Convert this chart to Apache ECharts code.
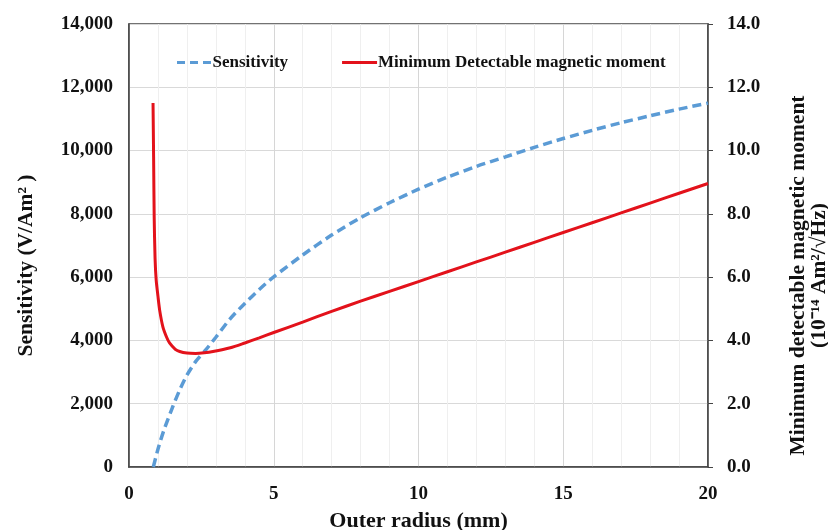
<!DOCTYPE html>
<html>
<head>
<meta charset="utf-8">
<script src="https://cdn.jsdelivr.net/npm/echarts@6/dist/echarts.min.js"></script>
<style>
  html, body { margin: 0; padding: 0; background: #fff; }
  #chart { width: 828px; height: 530px; }
</style>
</head>
<body>
<div id="chart"></div>
<script>
// outer radius (mm) and sensitivity (V/Am^2)
const sensX = [0.84, 1.0, 1.2, 1.5, 1.75, 2.0, 2.3, 2.65, 3.0, 3.5, 4.0, 4.5, 5.0, 6.0, 7.0, 8.0, 9.0, 10.0,
  11.0, 12.0, 13.0, 14.0, 15.0, 16.0, 17.0, 18.0, 19.0, 20.0]
const sensY = [0, 560, 1150, 1880, 2430, 2900, 3330, 3700, 4100, 4690, 5170, 5610, 6010, 6700, 7330, 7880, 8350, 8780,
  9160, 9500, 9800, 10100, 10380, 10640, 10880, 11100, 11310, 11500]

// outer radius (mm) and minimum detectable magnetic moment (1e-14 Am^2/sqrtHz)
const mdmX = [0.83, 0.85, 0.87, 0.9, 0.94, 1.0, 1.06, 1.17, 1.3, 1.4, 1.6, 1.75, 2.0, 2.3, 2.6, 2.9, 3.5, 4.0, 4.5, 5.0,
  6.0, 7.0, 8.0, 9.0, 10.0, 11.0, 12.0, 13.0, 14.0, 15.0, 16.0, 17.0, 18.0, 19.0, 20.0]
const mdmY = [11.5, 9.8, 7.9, 6.6, 5.9, 5.4, 4.95, 4.43, 4.1, 3.92, 3.72, 3.65, 3.6, 3.59, 3.61, 3.65, 3.77, 3.92, 4.08, 4.25,
  4.58, 4.92, 5.24, 5.55, 5.86, 6.17, 6.48, 6.79, 7.1, 7.41, 7.72, 8.03, 8.34, 8.65, 8.96]

const leftTicks = ['0', '2,000', '4,000', '6,000', '8,000', '10,000', '12,000', '14,000']
const rightTicks = ['0.0', '2.0', '4.0', '6.0', '8.0', '10.0', '12.0', '14.0']

const font = 'Liberation Serif'
const labelStyle = { fontFamily: font, fontWeight: 'bold', fontSize: 19, color: '#111' }
let myChart = echarts.init(document.getElementById('chart'))
let option = {
  animation: false,
  textStyle: { fontFamily: font },
  legend: {
    top: 49,
    left: 172,
    itemWidth: 35,
    itemHeight: 3,
    itemGap: 54,
    textStyle: { fontFamily: font, fontWeight: 'bold', fontSize: 17, color: '#111', padding: [0, 0, 0, -4] },
    data: [
      { name: 'Sensitivity', icon: 'path://M0,0h8v3h-8zM13,0h8v3h-8zM26,0h8v3h-8z' },
      { name: 'Minimum Detectable magnetic moment', icon: 'rect' }
    ]
  },
  grid: {
    left: 129,
    right: 120,
    top: 24,
    bottom: 63,
    outerBoundsMode: 'none',
    containLabel: false,
    show: true,
    borderColor: '#444',
    borderWidth: 1.5
  },
  xAxis: {
    type: 'value',
    min: 0,
    max: 20,
    interval: 5,
    name: 'Outer radius (mm)',
    nameLocation: 'middle',
    nameGap: 43,
    nameTextStyle: { fontFamily: font, fontWeight: 'bold', fontSize: 22, color: '#111' },
    axisLine: { lineStyle: { color: '#444', width: 1.5 } },
    axisTick: { show: false },
    axisLabel: Object.assign({ margin: 18 }, labelStyle),
    splitLine: { lineStyle: { color: '#d6d6d6' } },
    minorTick: { show: false, splitNumber: 5 },
    minorSplitLine: { show: true, lineStyle: { color: '#efefef' } }
  },
  yAxis: [
    {
      type: 'value',
      min: 0,
      max: 14000,
      interval: 2000,
      name: 'Sensitivity (V/Am² )',
      nameLocation: 'middle',
      nameRotate: 90,
      nameGap: 92,
      nameTextStyle: { fontFamily: font, fontWeight: 'bold', fontSize: 21.5, color: '#111', padding: [0, 40, 0, 0] },
      axisLine: { show: true, lineStyle: { color: '#444', width: 1.5 } },
      axisTick: { show: false },
      axisLabel: Object.assign({ margin: 16, formatter: (v) => leftTicks[Math.round(v / 2000)] }, labelStyle),
      splitLine: { lineStyle: { color: '#d9d9d9', width: 1.2 } }
    },
    {
      type: 'value',
      min: 0,
      max: 14,
      interval: 2,
      position: 'right',
      name: 'Minimum detectable magnetic moment\n(10⁻¹⁴ Am²/√Hz)',
      nameLocation: 'middle',
      nameRotate: 90,
      nameGap: 80,
      nameTextStyle: { fontFamily: font, fontWeight: 'bold', fontSize: 21.5, color: '#111', lineHeight: 21, padding: [0, 60, 0, 0] },
      axisLine: { show: true, lineStyle: { color: '#444', width: 1.5 } },
      axisTick: { show: true, length: 5, lineStyle: { color: '#444' } },
      axisLabel: Object.assign({ margin: 19, formatter: (v) => rightTicks[Math.round(v / 2)] }, labelStyle),
      splitLine: { show: false }
    }
  ],
  series: [
    {
      name: 'Sensitivity',
      type: 'line',
      yAxisIndex: 0,
      smooth: 0.25,
      symbol: 'none',
      lineStyle: { color: '#5b9bd5', width: 3.5, type: [9, 5] },
      itemStyle: { color: '#5b9bd5' },
      data: sensX.map((x, i) => [x, sensY[i]])
    },
    {
      name: 'Minimum Detectable magnetic moment',
      type: 'line',
      yAxisIndex: 1,
      smooth: 0.25,
      symbol: 'none',
      lineStyle: { color: '#e3121b', width: 3 },
      itemStyle: { color: '#e3121b' },
      data: mdmX.map((x, i) => [x, mdmY[i]])
    }
  ]
}
myChart.setOption(option)
</script>
</body>
</html>
